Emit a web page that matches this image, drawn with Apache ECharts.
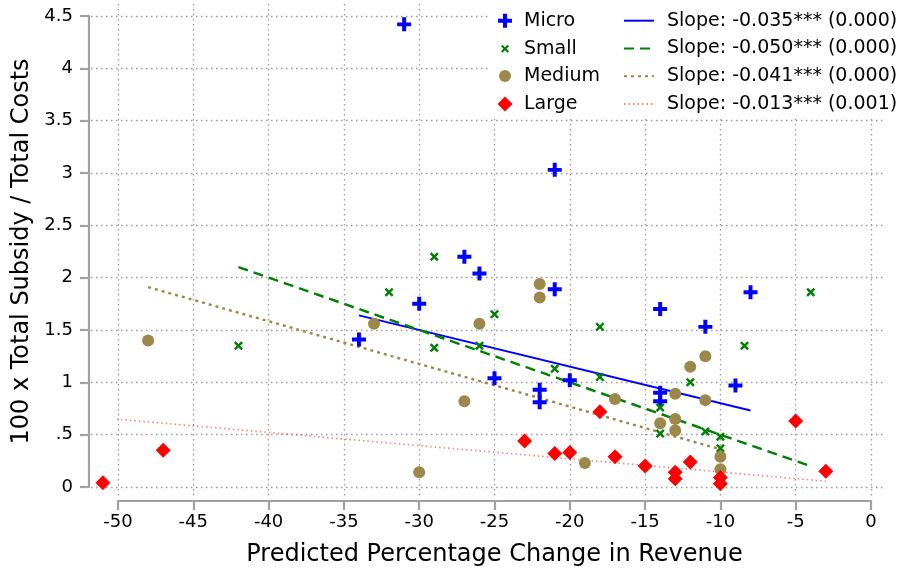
<!DOCTYPE html>
<html>
<head>
<meta charset="utf-8">
<script src="https://cdn.jsdelivr.net/npm/echarts@6/dist/echarts.min.js"></script>
<style>
  html, body { margin: 0; padding: 0; background: #fff; }
  #chart { width: 901px; height: 573px; }
</style>
</head>
<body>
<div id="chart"></div>
<script>
// Observations: [predicted % change in revenue, 100 x subsidy / total costs]
const microPoints = [
  [-31, 4.42], [-21, 3.03], [-27, 2.20], [-26, 2.04], [-30, 1.75], [-21, 1.89],
  [-8, 1.86], [-14, 1.70], [-11, 1.53], [-34, 1.41], [-25, 1.04], [-20, 1.02],
  [-22, 0.93], [-22, 0.81], [-14, 0.90], [-14, 0.82], [-9, 0.97]
];
const smallPoints = [
  [-29, 2.20], [-32, 1.86], [-25, 1.65], [-18, 1.53], [-42, 1.35], [-29, 1.33],
  [-26, 1.35], [-4, 1.86], [-8.4, 1.35], [-21, 1.13], [-12, 1.00], [-18, 1.05],
  [-14, 0.76], [-14, 0.51], [-11, 0.53], [-10, 0.48], [-10, 0.37]
];
const mediumPoints = [
  [-48, 1.40], [-33, 1.56], [-26, 1.56], [-22, 1.94], [-22, 1.81], [-27, 0.82],
  [-30, 0.14], [-11, 1.25], [-12, 1.15], [-13, 0.89], [-11, 0.83], [-17, 0.84],
  [-14, 0.61], [-13, 0.65], [-13, 0.54], [-10, 0.29], [-10, 0.17], [-19, 0.23]
];
const largePoints = [
  [-51, 0.04], [-47, 0.35], [-23, 0.44], [-21, 0.32], [-20, 0.33], [-18, 0.72],
  [-17, 0.29], [-15, 0.20], [-13, 0.14], [-13, 0.08], [-12, 0.24], [-10, 0.09],
  [-10, 0.03], [-5, 0.63], [-3, 0.15]
];

// Fitted lines (end points over each group's range)
const microFit = [[-34, 1.64], [-8, 0.73]];
const smallFit = [[-42, 2.10], [-4, 0.20]];
const mediumFit = [[-48, 1.91], [-10, 0.36]];
const largeFit = [[-51, 0.66], [-3, 0.055]];

const groupNames = ['Micro', 'Small', 'Medium', 'Large'];
const slopeLabels = [
  'Slope: -0.035*** (0.000)',
  'Slope: -0.050*** (0.000)',
  'Slope: -0.041*** (0.000)',
  'Slope: -0.013*** (0.001)'
];

const xTicks = { min: -50, max: 0, step: 5 };
const yTicks = { min: 0, max: 4.5, step: 0.5 };

const FONT = 'DejaVu Sans';
const AXIS_GRAY = '#a0a0a0';
const GRID_GRAY = '#9a9a9a';
const OLIVE = '#9c884b';

const PLUS = 'path://M4.3,0H7.7V4.3H12V7.7H7.7V12H4.3V7.7H0V4.3H4.3Z';
const CROSS = 'path://M0,1.9L1.9,0L5,3.1L8.1,0L10,1.9L6.9,5L10,8.1L8.1,10L5,6.9L1.9,10L0,8.1L3.1,5Z';
const DIAMOND = 'path://M5,0L10,5L5,10L0,5Z';

const chart = echarts.init(document.getElementById('chart'), null, { renderer: 'canvas' });

const gridDots = { color: GRID_GRAY, width: 1.3, type: [1.5, 3.5] };

// One legend per marker row; the icon is centred at x = 505, text starts at 524
function symbolLegend(name, top, size) {
  return {
    data: [name],
    orient: 'vertical',
    left: 505 - size / 2,
    top: top,
    padding: 0,
    itemWidth: 28,
    itemHeight: size,
    symbolKeepAspect: true,
    selectedMode: false,
    textStyle: { fontFamily: FONT, fontSize: 19, lineHeight: 20, color: '#000' }
  };
}

const option = {
  animation: false,
  backgroundColor: '#fff',
  grid: [
    // plotting region: x -50..0, y 0..4.5
    { left: 118, right: 30, top: 16, bottom: 86 },
    // vertical grid lines
    { left: 118, right: 30, top: 4, bottom: 76 },
    // horizontal grid lines
    { left: 91, right: 18, top: 16, bottom: 86 }
  ],
  xAxis: [
    {
      gridIndex: 0, type: 'value', position: 'bottom', offset: 14,
      min: xTicks.min, max: xTicks.max, interval: xTicks.step,
      name: 'Predicted Percentage Change in Revenue',
      nameLocation: 'middle', nameGap: 42,
      nameTextStyle: { fontFamily: FONT, fontSize: 24, color: '#000' },
      axisLine: { show: true, onZero: false, lineStyle: { color: AXIS_GRAY, width: 2.2 } },
      axisTick: { show: true, length: 9, lineStyle: { color: AXIS_GRAY, width: 2.2 } },
      axisLabel: { fontFamily: FONT, fontSize: 18, color: '#000', margin: 12 },
      splitLine: { show: false }
    },
    {
      gridIndex: 1, type: 'value',
      min: xTicks.min, max: xTicks.max, interval: xTicks.step,
      axisLine: { show: false }, axisTick: { show: false }, axisLabel: { show: false },
      splitLine: { show: true, lineStyle: gridDots }
    },
    {
      gridIndex: 2, type: 'value', show: false,
      min: xTicks.min, max: xTicks.max,
      splitLine: { show: false }
    }
  ],
  yAxis: [
    {
      gridIndex: 0, type: 'value', position: 'left', offset: 29,
      min: yTicks.min, max: yTicks.max, interval: yTicks.step,
      name: '100 x Total Subsidy / Total Costs',
      nameLocation: 'middle', nameGap: 55,
      nameTextStyle: { fontFamily: FONT, fontSize: 24, color: '#000' },
      axisLine: { show: true, onZero: false, lineStyle: { color: AXIS_GRAY, width: 2.2 } },
      axisTick: { show: true, length: 9, lineStyle: { color: AXIS_GRAY, width: 2.2 } },
      axisLabel: {
        fontFamily: FONT, fontSize: 18, color: '#000', margin: 16,
        formatter: function (v) { return v === 0.5 ? '.5' : String(v); }
      },
      splitLine: { show: false }
    },
    {
      gridIndex: 1, type: 'value', show: false,
      min: yTicks.min, max: yTicks.max,
      splitLine: { show: false }
    },
    {
      gridIndex: 2, type: 'value',
      min: yTicks.min, max: yTicks.max, interval: yTicks.step,
      axisLine: { show: false }, axisTick: { show: false }, axisLabel: { show: false },
      splitLine: { show: true, lineStyle: gridDots }
    }
  ],
  graphic: [
    {
      type: 'rect', z: 1, silent: true,
      shape: { x: 488, y: 0, width: 413, height: 117 },
      style: { fill: '#fff' }
    }
  ],
  legend: [
    symbolLegend('Micro', 10.7, 14),
    symbolLegend('Small', 38.7, 8),
    symbolLegend('Medium', 66, 12),
    symbolLegend('Large', 94, 15),
    {
      data: slopeLabels,
      orient: 'vertical',
      left: 623,
      top: 10.7,
      padding: 0,
      itemGap: 7.8,
      itemWidth: 30,
      itemHeight: 14,
      selectedMode: false,
      itemStyle: { opacity: 0 },
      textStyle: { fontFamily: FONT, fontSize: 19, lineHeight: 20, color: '#000', padding: [0, 0, 0, 8] }
    }
  ],
  series: [
    {
      name: groupNames[0], type: 'scatter', data: microPoints, clip: false,
      symbol: PLUS, symbolSize: 14, itemStyle: { color: '#0000ff', opacity: 1 }, z: 3
    },
    {
      name: groupNames[1], type: 'scatter', data: smallPoints, clip: false,
      symbol: CROSS, symbolSize: 9, itemStyle: { color: '#008000', opacity: 1 }, z: 3
    },
    {
      name: groupNames[2], type: 'scatter', data: mediumPoints, clip: false,
      symbol: 'circle', symbolSize: 12, itemStyle: { color: OLIVE, opacity: 1 }, z: 3
    },
    {
      name: groupNames[3], type: 'scatter', data: largePoints, clip: false,
      symbol: DIAMOND, symbolSize: 15, itemStyle: { color: '#ff0000', opacity: 1 }, z: 3
    },
    {
      name: slopeLabels[0], type: 'line', data: microFit, clip: false,
      symbol: 'none', silent: true, z: 2,
      itemStyle: { color: '#0000ff' },
      lineStyle: { color: '#0000ff', width: 2, type: 'solid' }
    },
    {
      name: slopeLabels[1], type: 'line', data: smallFit, clip: false,
      symbol: 'none', silent: true, z: 2,
      itemStyle: { color: '#008000' },
      lineStyle: { color: '#008000', width: 2.4, type: [10, 6] }
    },
    {
      name: slopeLabels[2], type: 'line', data: mediumFit, clip: false,
      symbol: 'none', silent: true, z: 2,
      itemStyle: { color: OLIVE },
      lineStyle: { color: OLIVE, width: 2.4, type: [3, 4] }
    },
    {
      name: slopeLabels[3], type: 'line', data: largeFit, clip: false,
      symbol: 'none', silent: true, z: 2,
      itemStyle: { color: '#ff4040' },
      lineStyle: { color: 'rgba(255,40,40,0.6)', width: 1.6, type: [1.5, 3] }
    }
  ]
};

chart.setOption(option);
</script>
</body>
</html>
